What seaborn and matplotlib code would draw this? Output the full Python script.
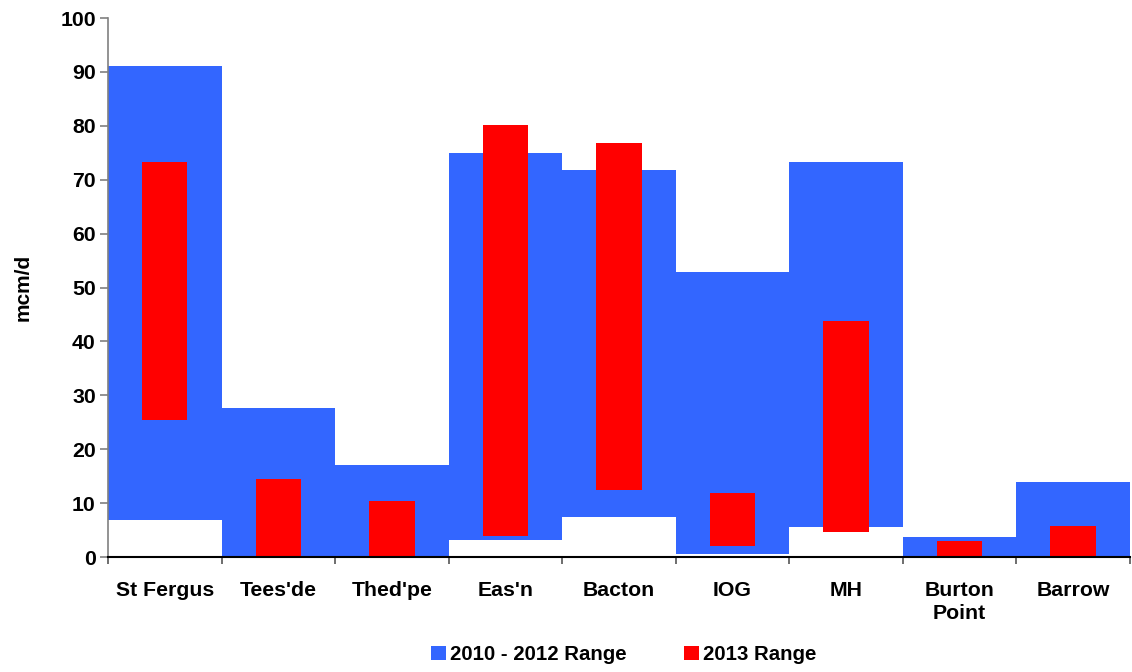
import matplotlib
matplotlib.use("Agg")
import matplotlib.pyplot as plt
from matplotlib.patches import Patch
from matplotlib.ticker import FixedLocator
import seaborn as sns
import pandas as pd
import numpy as np

terminals = ["St Fergus", "Tees'de", "Thed'pe", "Eas'n", "Bacton", "IOG", "MH",
             "Burton\nPoint", "Barrow"]

# 2010 - 2012 flow range (mcm/d)
range_1012_low = [6.9, 0.0, 0.0, 3.2, 7.4, 0.6, 5.6, 0.0, 0.0]
range_1012_high = [91.1, 27.7, 17.1, 75.0, 71.8, 52.9, 73.3, 3.7, 13.9]

# 2013 flow range (mcm/d)
range_13_low = [25.4, 0.0, 0.0, 3.9, 12.4, 2.0, 4.6, 0.0, 0.0]
range_13_high = [73.3, 14.5, 10.4, 80.1, 76.8, 11.9, 43.8, 3.0, 5.75]

blue = "#3366FF"
red = "#FF0000"

df_old = pd.DataFrame({
    "terminal": terminals,
    "low": range_1012_low,
    "span": np.array(range_1012_high) - np.array(range_1012_low),
})
df_new = pd.DataFrame({
    "terminal": terminals,
    "low": range_13_low,
    "span": np.array(range_13_high) - np.array(range_13_low),
})

sns.set_style("white")
plt.rcParams["font.family"] = ["Liberation Sans", "DejaVu Sans"]
plt.rcParams["font.weight"] = "bold"
plt.rcParams["text.color"] = "black"
plt.rcParams["axes.labelcolor"] = "black"
plt.rcParams["xtick.labelcolor"] = "black"
plt.rcParams["ytick.labelcolor"] = "black"

fig = plt.figure(figsize=(11.32, 6.72), dpi=100)
ax = fig.add_axes([0.0954, 0.1711, 0.9026, 0.8021])

sns.barplot(data=df_old, x="terminal", y="span", order=terminals,
            bottom=df_old["low"].values, color=blue, saturation=1,
            width=1.0, linewidth=0, errorbar=None, ax=ax)
sns.barplot(data=df_new, x="terminal", y="span", order=terminals,
            bottom=df_new["low"].values, color=red, saturation=1,
            width=0.4, linewidth=0, errorbar=None, ax=ax)

ax.set_xlim(-0.5, len(terminals) - 0.5)
ax.set_ylim(0, 100)
ax.set_yticks(range(0, 101, 10))
ax.set_xlabel("")
ax.set_ylabel("mcm/d", fontsize=15, fontweight="bold", labelpad=20)

for s in ("top", "right"):
    ax.spines[s].set_visible(False)
ax.spines["left"].set_color("#808080")
ax.spines["left"].set_linewidth(1.2)
ax.spines["bottom"].set_color("black")
ax.spines["bottom"].set_linewidth(1.5)

# category labels sit between tick marks placed at category boundaries
ax.set_xticks(range(len(terminals)))
ax.set_xticklabels(terminals, fontsize=15.3, fontweight="bold", linespacing=1.3)
ax.tick_params(axis="x", which="major", length=0, pad=17, labelcolor="black")
ax.xaxis.set_minor_locator(FixedLocator(np.arange(-0.5, len(terminals), 1.0)))
ax.tick_params(axis="x", which="minor", bottom=True, length=5, width=1.2,
               color="#555555", direction="out")
ax.tick_params(axis="y", which="major", left=True, length=5.8, width=1.2,
               color="#808080", direction="out", pad=3, labelsize=15.3,
               labelcolor="black")
for lab in ax.get_yticklabels():
    lab.set_fontweight("bold")

handles = [Patch(facecolor=blue, edgecolor="none", label="2010 - 2012 Range"),
           Patch(facecolor=red, edgecolor="none", label="2013 Range")]
fig.legend(handles=handles, loc="center", bbox_to_anchor=(0.551, 0.026),
           ncol=2, frameon=False, handlelength=0.69, handleheight=0.69,
           handletextpad=0.2, columnspacing=2.85, borderpad=0,
           labelcolor="black", prop={"size": 14.7, "weight": "bold"})

fig.savefig("out.png", dpi=100)
